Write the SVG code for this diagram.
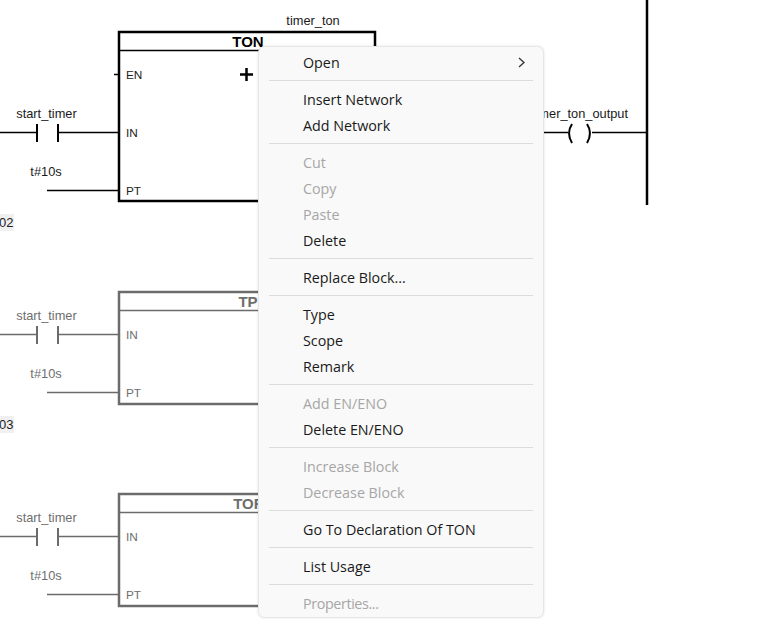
<svg xmlns="http://www.w3.org/2000/svg" width="771" height="619" viewBox="0 0 771 619">
<defs>
<style>
.l{font-family:"Liberation Sans",Arial,sans-serif;font-size:12.800px;fill:#1a1a1a}
.pin{font-family:"Liberation Sans",Arial,sans-serif;font-size:11.800px;fill:#222}
.t{font-family:"Liberation Sans",Arial,sans-serif;font-size:15px;font-weight:bold;fill:#000;text-anchor:middle}
.g text{fill:#6e6e6e}
.w{stroke:#000;stroke-width:1.300;fill:none}
.b{stroke:#000;stroke-width:2.500;fill:#fff}
.c{stroke:#000;stroke-width:2;fill:none}
.g .w,.g .b,.g .c{stroke:#6b6b6b}
.m{font-family:"Open Sans","Noto Sans",sans-serif;font-size:14.300px;fill:#1a1a1a}
.d{fill:#a6a6a6}
.s{stroke:#dcdcdc;stroke-width:1.200}
.n{font-family:"Liberation Sans",Arial,sans-serif;font-size:13px;fill:#222}
</style>
<filter id="sh" x="-5%" y="-5%" width="110%" height="110%"><feGaussianBlur stdDeviation="1.500"/></filter>
</defs>
<rect width="771" height="619" fill="#fff"/>
<g id="connectors">
<path class="w" d="M0 132.500H36M59 132.500H119M47 190.500H119M114 74.500H119M540 132.500H568M592 132.500H647"/>
<g class="g"><path class="w" d="M0 334.500H36M59 334.500H119M47 392.500H119"/></g>
<g class="g"><path class="w" d="M0 536.500H36M59 536.500H119M47 594.500H119"/></g>
<path d="M647 0V205" stroke="#000" stroke-width="2.500" fill="none"/>
</g>
<g id="ton">
<rect class="b" x="119" y="32" width="256" height="169"/>
<path class="w" d="M120 50.500H375"/>
<text class="t" x="248" y="47">TON</text>
<text class="pin" x="126" y="79">EN</text>
<text class="pin" x="126" y="137">IN</text>
<text class="pin" x="126" y="195">PT</text>
<text class="l" x="313" y="25" text-anchor="middle">timer_ton</text>
<path d="M246.500 68V81M240 74.500H253" stroke="#000" stroke-width="2.500" fill="none"/>
<text class="l" x="46.500" y="118" text-anchor="middle">start_timer</text>
<text class="l" x="46" y="176" text-anchor="middle">t#10s</text>
<path class="c" d="M37 124V142M58 124V142"/>
</g>
<g id="coil">
<text class="l" x="628" y="118" text-anchor="end">timer_ton_output</text>
<path class="c" d="M572 124Q566 133 572 143M587 124Q593 133 587 143"/>
</g>
<g id="tp" class="g">
<rect class="b" x="119" y="292" width="256" height="112"/>
<path class="w" d="M120 310.500H375"/>
<text class="t" x="248" y="307">TP</text>
<text class="pin" x="126" y="339">IN</text>
<text class="pin" x="126" y="397">PT</text>
<text class="l" x="46.500" y="320" text-anchor="middle">start_timer</text>
<text class="l" x="46" y="378" text-anchor="middle">t#10s</text>
<path class="c" d="M37 326V344M58 326V344"/>
</g>
<g id="tof" class="g">
<rect class="b" x="119" y="494" width="256" height="112"/>
<path class="w" d="M120 512.500H375"/>
<text class="t" x="248" y="509">TOF</text>
<text class="pin" x="126" y="541">IN</text>
<text class="pin" x="126" y="599">PT</text>
<text class="l" x="46.500" y="522" text-anchor="middle">start_timer</text>
<text class="l" x="46" y="580" text-anchor="middle">t#10s</text>
<path class="c" d="M37 528V546M58 528V546"/>
</g>
<g id="net02"><rect x="0" y="214" width="14" height="17" fill="#f0f0f0"/><text class="n" x="-1" y="227">02</text></g>
<g id="net03"><rect x="0" y="416" width="14" height="17" fill="#f0f0f0"/><text class="n" x="-1" y="429">03</text></g>
<g id="menu">
<rect x="258" y="46" width="286" height="572" rx="6" fill="#000" opacity="0.1" filter="url(#sh)"/>
<rect x="258.500" y="46.500" width="285" height="571" rx="6" fill="#f9f9f9" stroke="#e6e6e6"/>
<path class="s" d="M269 80.500H533M269 143.500H533M269 258.500H533M269 295.500H533M269 384.500H533M269 447.500H533M269 510.500H533M269 547.500H533M269 584.500H533"/>
<path d="M519 58L524 62.500L519 67" stroke="#333" stroke-width="1.300" fill="none"/>
<text class="m" x="303" y="68">Open</text>
<text class="m" x="303" y="105">Insert Network</text>
<text class="m" x="303" y="131">Add Network</text>
<text class="m d" x="303" y="168">Cut</text>
<text class="m d" x="303" y="194">Copy</text>
<text class="m d" x="303" y="220">Paste</text>
<text class="m" x="303" y="246">Delete</text>
<text class="m" x="303" y="283">Replace Block...</text>
<text class="m" x="303" y="320">Type</text>
<text class="m" x="303" y="346">Scope</text>
<text class="m" x="303" y="372">Remark</text>
<text class="m d" x="303" y="409">Add EN/ENO</text>
<text class="m" x="303" y="435">Delete EN/ENO</text>
<text class="m d" x="303" y="472">Increase Block</text>
<text class="m d" x="303" y="498">Decrease Block</text>
<text class="m" x="303" y="535">Go To Declaration Of TON</text>
<text class="m" x="303" y="572">List Usage</text>
<text class="m d" x="303" y="609" textLength="76">Properties...</text>
</g>
</svg>
